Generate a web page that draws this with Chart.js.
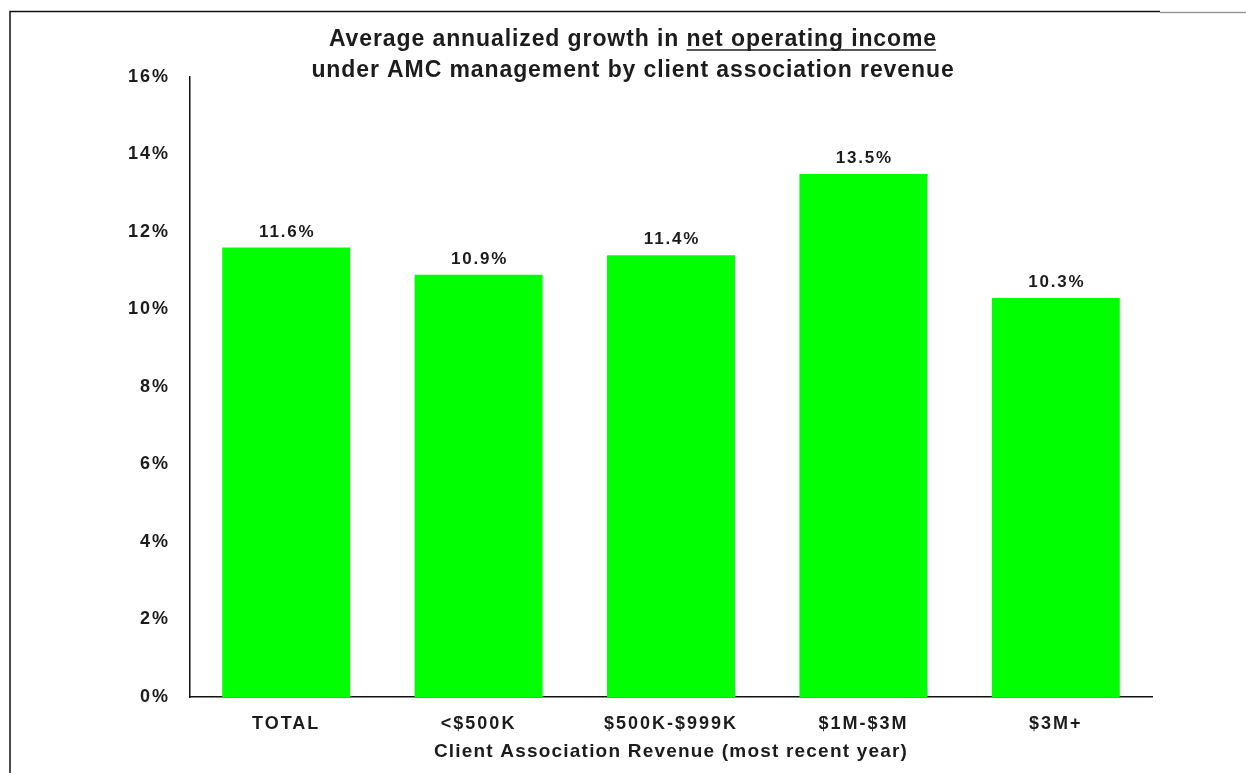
<!DOCTYPE html>
<html lang="en">
<head>
    <meta charset="UTF-8">
    <title>Growth in net operating income by client association revenue</title>
    <script src="https://cdn.jsdelivr.net/npm/chart.js"></script>
    <style>
        body {
            margin: 0;
            padding: 0;
            background: #fff;
        }
        .chart-box {
            width: 1246px;
            height: 773px;
        }
    </style>
</head>
<body>
    <div class="chart-box">
        <canvas id="growthChart"></canvas>
    </div>

    <script>
        // revenue bands and average annualized NOI growth (%)
        const categories = ['TOTAL', '<$500K', '$500K-$999K', '$1M-$3M', '$3M+'];
        const growthValues = [11.6, 10.9, 11.4, 13.5, 10.3];
        const yTicks = [0, 2, 4, 6, 8, 10, 12, 14, 16];

        const titlePlain = 'Average annualized growth in ';
        const titleUnderlined = 'net operating income';
        const titleLine2 = 'under AMC management by client association revenue';
        const axisTitle = 'Client Association Revenue (most recent year)';

        const FONT = "'Liberation Sans', Arial, sans-serif";
        const TEXT = '#1c1c1c';

        // page frame, wide-tracked lettering for the axis ticks
        const framePlugin = {
            id: 'frame',
            beforeDraw(chart) {
                const ctx = chart.ctx;
                ctx.save();
                ctx.fillStyle = '#fff';
                ctx.fillRect(0, 0, chart.width, chart.height);
                ctx.lineWidth = 1.5;
                ctx.strokeStyle = '#111';
                ctx.beginPath();
                ctx.moveTo(10, chart.height);
                ctx.lineTo(10, 11.5);
                ctx.lineTo(1160, 11.5);
                ctx.stroke();
                ctx.strokeStyle = '#999';
                ctx.beginPath();
                ctx.moveTo(1160, 12.5);
                ctx.lineTo(chart.width, 12.5);
                ctx.stroke();
                ctx.restore();
                ctx.letterSpacing = '2px';
            },
            afterDraw(chart) {
                const ctx = chart.ctx;
                const cx = 633;
                ctx.save();
                ctx.fillStyle = TEXT;
                ctx.strokeStyle = TEXT;
                ctx.textBaseline = 'alphabetic';

                ctx.font = 'bold 23px ' + FONT;
                ctx.letterSpacing = '0.9px';
                const wA = ctx.measureText(titlePlain).width;
                const wB = ctx.measureText(titleUnderlined).width;
                const x0 = cx - (wA + wB) / 2;
                ctx.textAlign = 'left';
                ctx.fillText(titlePlain, x0, 46);
                ctx.fillText(titleUnderlined, x0 + wA, 46);
                ctx.lineWidth = 1.5;
                ctx.beginPath();
                ctx.moveTo(x0 + wA, 50);
                ctx.lineTo(x0 + wA + wB - 1, 50);
                ctx.stroke();

                ctx.textAlign = 'center';
                ctx.fillText(titleLine2, cx, 77);

                // x axis title, centred under the plot area
                const area = chart.chartArea;
                ctx.font = 'bold 19px ' + FONT;
                ctx.letterSpacing = '1.2px';
                ctx.fillText(axisTitle, (area.left + area.right) / 2, 757);
                ctx.restore();
            }
        };

        // value labels above bars
        const barLabels = {
            id: 'barLabels',
            afterDatasetsDraw(chart) {
                const ctx = chart.ctx;
                const meta = chart.getDatasetMeta(0);
                ctx.save();
                ctx.font = 'bold 17px ' + FONT;
                ctx.letterSpacing = '1.8px';
                ctx.fillStyle = TEXT;
                ctx.textAlign = 'center';
                ctx.textBaseline = 'alphabetic';
                meta.data.forEach((bar, i) => {
                    ctx.fillText(growthValues[i].toFixed(1) + '%', bar.x + 1, bar.y - 11);
                });
                ctx.restore();
            }
        };

        new Chart(document.getElementById('growthChart'), {
            type: 'bar',
            data: {
                labels: categories,
                datasets: [{
                    data: growthValues,
                    backgroundColor: '#00ff00',
                    borderWidth: 0,
                    barPercentage: 0.665,
                    categoryPercentage: 1
                }]
            },
            options: {
                responsive: true,
                maintainAspectRatio: false,
                animation: false,
                layout: {
                    padding: { top: 77, right: 94, bottom: 0, left: 0 }
                },
                plugins: {
                    legend: { display: false },
                    tooltip: { enabled: false }
                },
                scales: {
                    x: {
                        grid: { display: false, drawTicks: false },
                        border: { display: true, color: '#111', width: 1.5 },
                        ticks: {
                            color: TEXT,
                            font: { family: FONT, size: 18, weight: 'bold' },
                            padding: 16,
                            maxRotation: 0
                        },
                        afterFit(scale) { scale.height = 76; }
                    },
                    y: {
                        min: 0,
                        max: 16,
                        grid: { display: false, drawTicks: false },
                        border: { display: true, color: '#111', width: 1.5 },
                        afterBuildTicks(scale) {
                            scale.ticks = yTicks.map(v => ({ value: v }));
                        },
                        ticks: {
                            color: TEXT,
                            font: { family: FONT, size: 18, weight: 'bold' },
                            padding: 20,
                            callback: v => v + '%'
                        },
                        afterFit(scale) { scale.width = 190; }
                    }
                }
            },
            plugins: [framePlugin, barLabels]
        });
    </script>
</body>
</html>
